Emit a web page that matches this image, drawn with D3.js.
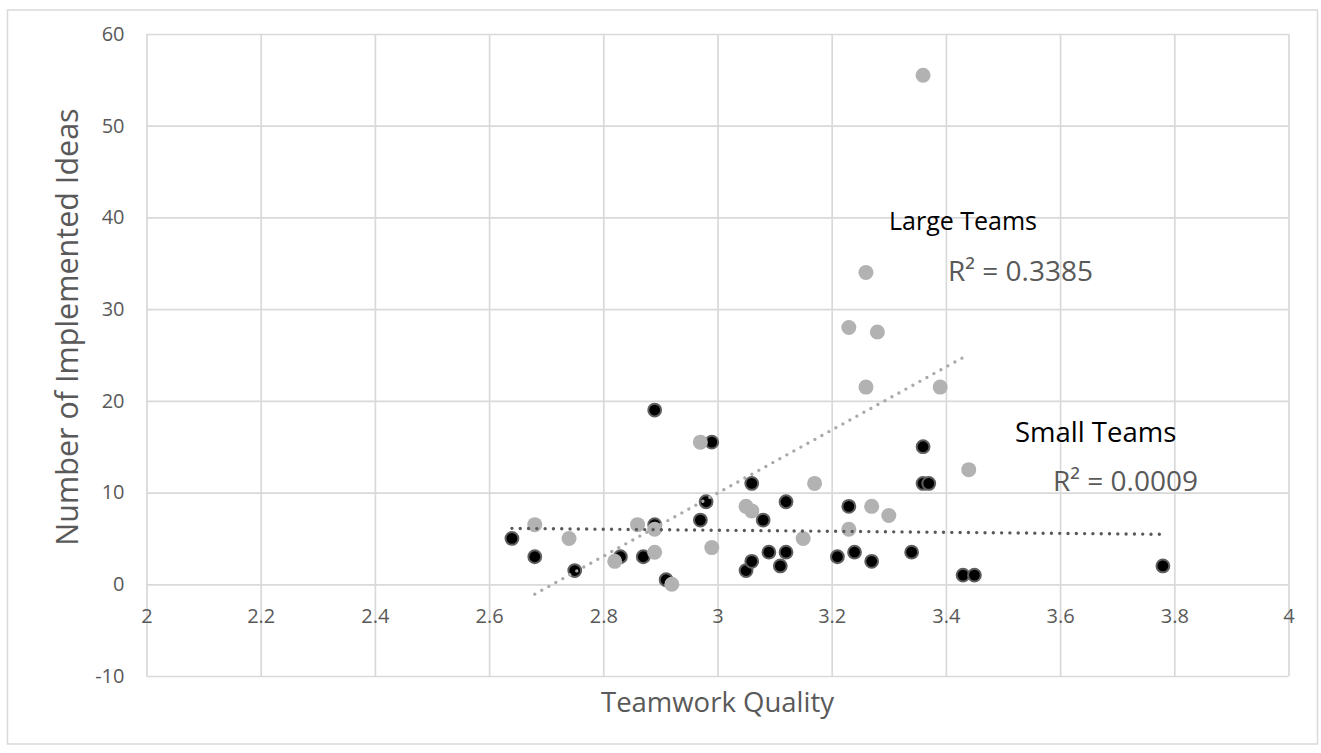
<!DOCTYPE html>
<html>
<head>
<meta charset="utf-8">
<script src="https://cdn.jsdelivr.net/npm/d3@7"></script>
<style>
  html, body { margin: 0; padding: 0; background: #fff; }
  svg { display: block; font-family: "Open Sans", "Noto Sans", sans-serif; }
</style>
</head>
<body>
<svg id="chart" width="1321" height="753"></svg>
<script>
// ---- Data ----
const smallTeamsX = [2.64, 2.68, 2.75, 2.83, 2.87, 2.89, 2.89, 2.91, 2.97, 2.98, 2.99, 3.05, 3.06, 3.06, 3.08, 3.09, 3.11, 3.12, 3.12, 3.21, 3.23, 3.24, 3.27, 3.34, 3.36, 3.36, 3.37, 3.43, 3.45, 3.78];
const smallTeamsY = [5, 3, 1.5, 3, 3, 19, 6.5, 0.5, 7, 9, 15.5, 1.5, 11, 2.5, 7, 3.5, 2, 9, 3.5, 3, 8.5, 3.5, 2.5, 3.5, 15, 11, 11, 1, 1, 2];
const largeTeamsX = [3.36, 3.26, 3.23, 3.28, 3.26, 3.39, 2.97, 3.44, 3.17, 3.05, 3.06, 3.27, 3.30, 2.68, 2.86, 2.89, 3.23, 2.74, 3.15, 2.99, 2.89, 2.82, 2.92];
const largeTeamsY = [55.5, 34, 28, 27.5, 21.5, 21.5, 15.5, 12.5, 11, 8.5, 8, 8.5, 7.5, 6.5, 6.5, 6, 6, 5, 5, 4, 3.5, 2.5, 0];
const xTicks = [2, 2.2, 2.4, 2.6, 2.8, 3, 3.2, 3.4, 3.6, 3.8, 4];
const yTicks = [-10, 0, 10, 20, 30, 40, 50, 60];
const seriesLabels = ["Small Teams", "Large Teams"];
const rSquaredLabels = ["R² = 0.0009", "R² = 0.3385"];
const xTitle = "Teamwork Quality";
const yTitle = "Number of Implemented Ideas";

// ---- Layout ----
const svg = d3.select("#chart");
const plot = { left: 146.5, right: 1288.5, top: 34, bottom: 676 };
const x = d3.scaleLinear().domain([2, 4]).range([plot.left, plot.right]);
const y = d3.scaleLinear().domain([-10, 60]).range([plot.bottom, plot.top]);
const gridColor = "#d9d9d9";
const textColor = "#595959";

// outer chart border
svg.append("rect").attr("x", 7.5).attr("y", 10).attr("width", 1310).attr("height", 734)
  .attr("fill", "none").attr("stroke", gridColor).attr("stroke-width", 1.5);

// vertical gridlines
const gx = svg.append("g").attr("transform", `translate(0,${plot.bottom})`)
  .call(d3.axisBottom(x).tickValues(xTicks).tickSize(-(plot.bottom - plot.top)).tickFormat(""));
gx.select(".domain").remove();
gx.selectAll("line").attr("stroke", gridColor).attr("stroke-width", 1.7);

// horizontal gridlines
const gy = svg.append("g").attr("transform", `translate(${plot.left},0)`)
  .call(d3.axisLeft(y).tickValues(yTicks).tickSize(-(plot.right - plot.left)).tickFormat(""));
gy.select(".domain").remove();
gy.selectAll("line").attr("stroke", gridColor).attr("stroke-width", 1.7);

// y tick labels
const yl = svg.append("g").attr("transform", `translate(${plot.left},0)`)
  .call(d3.axisLeft(y).tickValues(yTicks).tickSize(0).tickPadding(22).tickFormat(d => String(d)));
yl.select(".domain").remove();
yl.selectAll("text").attr("fill", textColor).style("font-size", "20px").style("font-family", "'Open Sans', sans-serif");

// x tick labels, at the y=0 crossing
const xl = svg.append("g").attr("transform", `translate(0,${y(0)})`)
  .call(d3.axisBottom(x).tickValues(xTicks).tickSize(0).tickPadding(25).tickFormat(d => String(+d.toFixed(1))));
xl.select(".domain").remove();
xl.selectAll("text").attr("fill", textColor).style("font-size", "20px").style("font-family", "'Open Sans', sans-serif");

// axis titles
svg.append("text").attr("x", (plot.left + plot.right) / 2).attr("y", 712)
  .attr("text-anchor", "middle").attr("fill", textColor).style("font-size", "27.5px").text(xTitle);
svg.append("text").attr("transform", `translate(78,${(plot.top + plot.bottom) / 2 - 28}) rotate(-90)`)
  .attr("text-anchor", "middle").attr("fill", textColor).style("font-size", "30.5px").text(yTitle);

// points
const small = smallTeamsX.map((v, i) => ({ x: v, y: smallTeamsY[i] }));
const large = largeTeamsX.map((v, i) => ({ x: v, y: largeTeamsY[i] }));

svg.append("g").selectAll("circle").data(small).join("circle")
  .attr("cx", d => x(d.x)).attr("cy", d => y(d.y)).attr("r", 6.4)
  .attr("fill", "#000").attr("stroke", "#5f5f5f").attr("stroke-width", 2);
svg.append("g").selectAll("circle").data(large).join("circle")
  .attr("cx", d => x(d.x)).attr("cy", d => y(d.y)).attr("r", 7.5)
  .attr("fill", "#b2b2b2");

// linear trendlines (least squares)
function fit(pts) {
  const mx = d3.mean(pts, d => d.x), my = d3.mean(pts, d => d.y);
  const sxy = d3.sum(pts, d => (d.x - mx) * (d.y - my));
  const sxx = d3.sum(pts, d => (d.x - mx) ** 2);
  const b = sxy / sxx, a = my - b * mx;
  const [x0, x1] = d3.extent(pts, d => d.x);
  return [{ x: x0, y: a + b * x0 }, { x: x1, y: a + b * x1 }];
}
const line = d3.line().x(d => x(d.x)).y(d => y(d.y));
svg.append("path").attr("d", line(fit(large))).attr("fill", "none")
  .attr("stroke", "#a9a9a9").attr("stroke-width", 3.4).attr("stroke-linecap", "round").attr("stroke-dasharray", "0 8");
svg.append("path").attr("d", line(fit(small))).attr("fill", "none")
  .attr("stroke", "#595959").attr("stroke-width", 3.4).attr("stroke-linecap", "round").attr("stroke-dasharray", "0 8.3");

// trendline labels
svg.append("text").attr("x", 889).attr("y", 230).attr("fill", "#000").style("font-size", "25px").text(seriesLabels[1]);
svg.append("text").attr("x", 948).attr("y", 281).attr("fill", textColor).style("font-size", "28px").text(rSquaredLabels[1]);
svg.append("text").attr("x", 1015).attr("y", 442).attr("fill", "#000").style("font-size", "27.5px").text(seriesLabels[0]);
svg.append("text").attr("x", 1053).attr("y", 491).attr("fill", textColor).style("font-size", "28px").text(rSquaredLabels[0]);
</script>
</body>
</html>
